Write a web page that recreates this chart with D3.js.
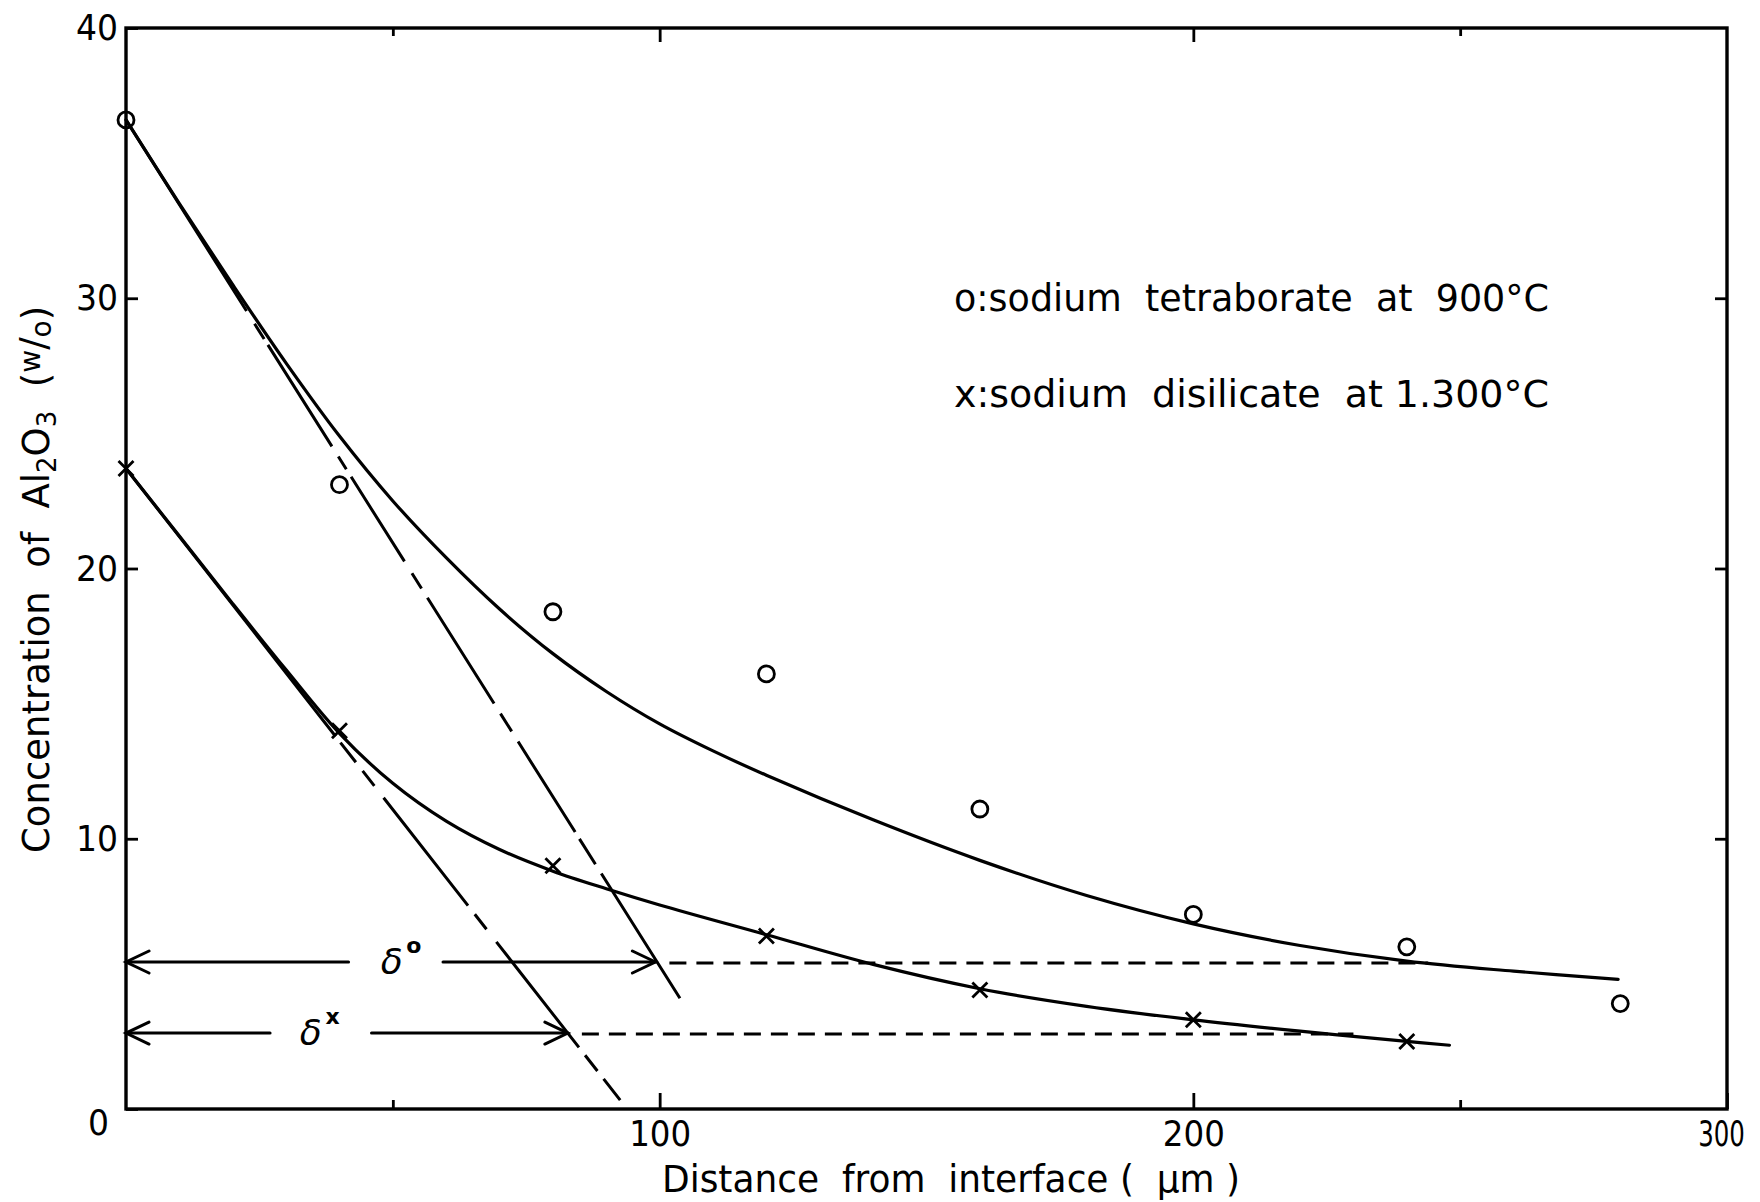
<!DOCTYPE html>
<html>
<head>
<meta charset="utf-8">
<script src="https://cdn.jsdelivr.net/npm/d3@7/dist/d3.min.js"></script>
<style>
  body { margin: 0; background: #fff; }
  text { font-family: 'DejaVu Sans', sans-serif; fill: #000; white-space: pre; }
</style>
</head>
<body>
<svg id="chart" width="1760" height="1202"></svg>
<script>
// ---- measured points (distance in µm, Al2O3 in w/o) ----
const tetraDist = [0, 40, 80, 120, 160, 200, 240, 280];
const tetraConc = [36.6, 23.1, 18.4, 16.1, 11.1, 7.2, 6.0, 3.9];
const disiDist  = [0, 40, 80, 120, 160, 200, 240];
const disiConc  = [23.7, 14.0, 9.0, 6.4, 4.4, 3.3, 2.5];

// ---- smoothed profiles drawn through the data ----
const tetraFitDist = [0, 10, 20, 30, 40, 50, 60, 70, 80, 90, 100, 110, 120, 140, 160, 180, 200, 220, 240, 260, 279.6];
const tetraFitConc = [36.6, 33.5, 30.5, 27.6, 24.9, 22.5, 20.4, 18.5, 16.85, 15.45, 14.25, 13.25, 12.35, 10.7, 9.2, 7.9, 6.85, 6.05, 5.47, 5.1, 4.8];
const disiFitDist  = [0, 10, 20, 30, 40, 50, 60, 70, 80, 90, 100, 120, 140, 160, 180, 200, 220, 240, 248];
const disiFitConc  = [23.7, 21.2, 18.7, 16.25, 13.9, 12.05, 10.65, 9.6, 8.8, 8.15, 7.55, 6.45, 5.35, 4.45, 3.8, 3.3, 2.88, 2.5, 2.36];

// ---- initial-slope tangents [x0, c0, x1, c1] ----
const tetraTangent = [0, 36.6, 103.8, 4.1];
const disiTangent  = [0, 23.7, 92.6, 0.33];

// ---- penetration depths δ: level, depth, label gap, end of dashed continuation ----
const deltaNames  = ["o", "x"];
const deltaLevel  = [5.44, 2.81];
const deltaDepth  = [99.2, 82.8];
const deltaGapLo  = [41.7, 27.0];
const deltaGapHi  = [59.4, 46.0];
const deltaLabelX = [49.8, 34.6];
const deltaDashTo = [244, 230];

// ---- axes ----
const xTicks = [0, 100, 200, 300];
const xMinorTicks = [50, 250];
const yTicks = [0, 10, 20, 30, 40];

const legendLabels = ["o:sodium  tetraborate  at  900°C", "x:sodium  disilicate  at 1.300°C"];
const xTitle = "Distance  from  interface (  μm )";

const svg = d3.select("#chart");
const x = d3.scaleLinear().domain([0, 300]).range([126, 1727]);
const y = d3.scaleLinear().domain([0, 40]).range([1109, 28]);

const INK = "#000";

// plot frame
svg.append("rect")
  .attr("x", x(0)).attr("y", y(40))
  .attr("width", x(300) - x(0)).attr("height", y(0) - y(40))
  .attr("fill", "none").attr("stroke", INK).attr("stroke-width", 3.4);

function styleAxis(g) {
  g.select(".domain").remove();
  g.selectAll(".tick line").attr("stroke", INK).attr("stroke-width", 2.8);
  g.selectAll(".tick text").attr("font-size", 36).attr("fill", INK)
    .attr("font-family", "'DejaVu Sans', sans-serif");
}

// bottom axis: labels below, ticks pointing inward
const gBottom = svg.append("g").attr("transform", `translate(0,${y(0)})`)
  .call(d3.axisBottom(x).tickValues(xTicks.filter(d => d > 0)).tickSizeInner(-16).tickSizeOuter(0).tickPadding(10));
styleAxis(gBottom);
gBottom.selectAll(".tick text").attr("dy", "0.76em")
  .filter(d => d !== 300)
  .attr("textLength", 62).attr("lengthAdjust", "spacingAndGlyphs");
// the last label sits at the frame corner and is set narrower
gBottom.selectAll(".tick").filter(d => d === 300).select("text")
  .attr("transform", "scale(0.68,1)").attr("x", -6 / 0.68);
svg.append("g").attr("transform", `translate(0,${y(0)})`)
  .call(d3.axisBottom(x).tickValues(xMinorTicks).tickSizeInner(-9).tickSizeOuter(0).tickFormat(""))
  .call(styleAxis);

// top axis ticks
svg.append("g").attr("transform", `translate(0,${y(40)})`)
  .call(d3.axisTop(x).tickValues([100, 200]).tickSizeInner(-14).tickSizeOuter(0).tickFormat(""))
  .call(styleAxis);
svg.append("g").attr("transform", `translate(0,${y(40)})`)
  .call(d3.axisTop(x).tickValues(xMinorTicks).tickSizeInner(-8).tickSizeOuter(0).tickFormat(""))
  .call(styleAxis);

// left axis
const gLeft = svg.append("g").attr("transform", `translate(${x(0)},0)`)
  .call(d3.axisLeft(y).tickValues(yTicks).tickSizeInner(-12).tickSizeOuter(0).tickPadding(8));
styleAxis(gLeft);
gLeft.selectAll(".tick text")
  .attr("textLength", d => d === 0 ? 21 : 42).attr("lengthAdjust", "spacingAndGlyphs");
gLeft.selectAll(".tick").filter(d => d === 0).select("text")
  .attr("x", -17).attr("dy", "0.72em");

// right axis ticks
svg.append("g").attr("transform", `translate(${x(300)},0)`)
  .call(d3.axisRight(y).tickValues([10, 20, 30]).tickSizeInner(-12).tickSizeOuter(0).tickFormat(""))
  .call(styleAxis);

// axis titles
svg.append("text")
  .attr("x", 662).attr("y", 1192)
  .attr("font-size", 37)
  .attr("textLength", 578).attr("lengthAdjust", "spacingAndGlyphs")
  .text(xTitle);

const yTitle = svg.append("text")
  .attr("transform", "translate(49,853) rotate(-90)")
  .attr("text-anchor", "start")
  .attr("font-size", 37);
yTitle.append("tspan").text("Concentration  of  Al");
yTitle.append("tspan").attr("font-size", 26).attr("dy", 7).text("2");
yTitle.append("tspan").attr("dy", -7).text("O");
yTitle.append("tspan").attr("font-size", 26).attr("dy", 7).text("3");
yTitle.append("tspan").attr("dy", -7).text("  (");
yTitle.append("tspan").attr("font-size", 28).attr("dy", -9).text("w");
yTitle.append("tspan").attr("font-size", 37).attr("dy", 6).text("/");
yTitle.append("tspan").attr("font-size", 28).attr("dy", 5).text("o");
yTitle.append("tspan").attr("dy", -2).text(")");

// smoothed profiles
const line = d3.line().x(d => x(d[0])).y(d => y(d[1])).curve(d3.curveCatmullRom.alpha(0.5));
const profiles = [
  d3.zip(tetraFitDist, tetraFitConc),
  d3.zip(disiFitDist, disiFitConc)
];
svg.selectAll("path.profile").data(profiles).join("path")
  .attr("class", "profile")
  .attr("d", line)
  .attr("fill", "none").attr("stroke", INK).attr("stroke-width", 3.2)
  .attr("stroke-linejoin", "round").attr("stroke-linecap", "round");

// tangent lines (long dashes with short dashes in between)
const tangents = [
  { seg: tetraTangent, dash: "226,15,18,7,120,12,15,9,100,14,18,11,125,12,21,12,107,8,30,11,160" },
  { seg: disiTangent,  dash: "340,8,25,11,19,15,137,11,19,16,134,10,20,10,70" }
];
svg.selectAll("line.tangent").data(tangents).join("line")
  .attr("class", "tangent")
  .attr("x1", d => x(d.seg[0])).attr("y1", d => y(d.seg[1]))
  .attr("x2", d => x(d.seg[2])).attr("y2", d => y(d.seg[3]))
  .attr("stroke", INK).attr("stroke-width", 3)
  .attr("stroke-dasharray", d => d.dash);

// δ dimension arrows
const deltas = deltaNames.map((n, i) => ({
  name: n, level: deltaLevel[i], depth: deltaDepth[i],
  lo: deltaGapLo[i], hi: deltaGapHi[i], lx: deltaLabelX[i], dashTo: deltaDashTo[i]
}));
const dg = svg.selectAll("g.delta").data(deltas).join("g").attr("class", "delta")
  .attr("stroke", INK).attr("fill", "none").attr("stroke-linecap", "round");
dg.append("line").attr("stroke-width", 3)
  .attr("x1", d => x(0)).attr("x2", d => x(d.lo))
  .attr("y1", d => y(d.level)).attr("y2", d => y(d.level));
dg.append("line").attr("stroke-width", 3)
  .attr("x1", d => x(d.hi)).attr("x2", d => x(d.depth))
  .attr("y1", d => y(d.level)).attr("y2", d => y(d.level));
// arrowheads
dg.append("path").attr("stroke-width", 3)
  .attr("d", d => {
    const yy = y(d.level), a = x(0), b = x(d.depth);
    return `M${a + 23},${yy - 11}L${a},${yy}L${a + 23},${yy + 11}` +
           `M${b - 23},${yy - 11}L${b},${yy}L${b - 23},${yy + 11}`;
  });
// dashed continuation
dg.append("line").attr("stroke-width", 3).attr("stroke-linecap", "butt")
  .attr("stroke-dasharray", "17,10")
  .attr("x1", d => x(d.depth) + 14).attr("x2", d => x(d.dashTo))
  .attr("y1", d => y(d.level) + 1).attr("y2", d => y(d.level) + 1);
// labels
dg.append("text")
  .attr("x", d => x(d.lx)).attr("y", d => y(d.level) + 12)
  .attr("text-anchor", "middle").attr("stroke", "none")
  .attr("font-size", 36).attr("font-style", "italic")
  .text("δ");
dg.append("text")
  .attr("x", d => x(d.lx) + 22).attr("y", d => y(d.level) - 9)
  .attr("text-anchor", "middle").attr("stroke", "none")
  .attr("font-size", 22).attr("font-weight", "bold")
  .text(d => d.name);

// markers: open circles
svg.selectAll("circle.tetra").data(d3.zip(tetraDist, tetraConc)).join("circle")
  .attr("class", "tetra")
  .attr("cx", d => x(d[0])).attr("cy", d => y(d[1])).attr("r", 8)
  .attr("fill", "none").attr("stroke", INK).attr("stroke-width", 2.8);

// markers: crosses
const s = 7.5;
svg.selectAll("path.disi").data(d3.zip(disiDist, disiConc)).join("path")
  .attr("class", "disi")
  .attr("d", d => {
    const cx = x(d[0]), cy = y(d[1]);
    return `M${cx - s},${cy - s}L${cx + s},${cy + s}M${cx - s},${cy + s}L${cx + s},${cy - s}`;
  })
  .attr("fill", "none").attr("stroke", INK).attr("stroke-width", 2.8);

// legend
svg.selectAll("text.legend").data(legendLabels).join("text")
  .attr("class", "legend")
  .attr("x", 954).attr("y", (d, i) => 311 + i * 96)
  .attr("font-size", 37)
  .attr("textLength", 595).attr("lengthAdjust", "spacingAndGlyphs")
  .text(d => d);
</script>
</body>
</html>
